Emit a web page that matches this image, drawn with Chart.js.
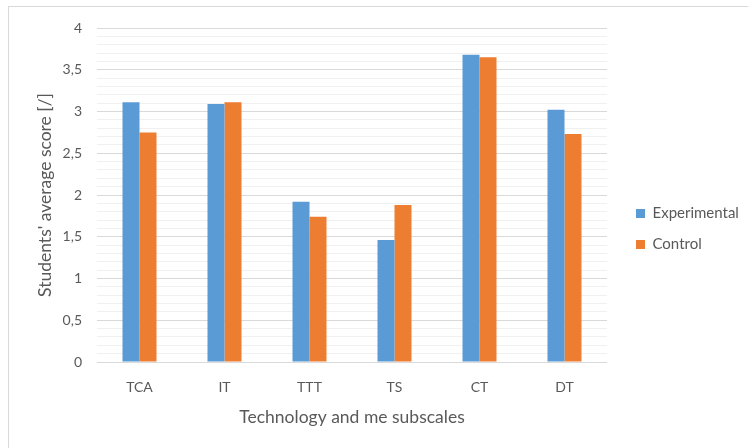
<!DOCTYPE html>
<html>
<head>
<meta charset="utf-8">
<script src="https://cdn.jsdelivr.net/npm/chart.js@4/dist/chart.umd.min.js"></script>
<style>
  html, body { margin: 0; padding: 0; background: #ffffff; }
  #wrap { position: relative; width: 748px; height: 448px; overflow: hidden; }
  #frame { position: absolute; left: 8px; top: 6px; width: 780px; height: 480px; border: 1px solid #d9d9d9; box-sizing: border-box; }
  #chart { position: absolute; left: 0; top: 0; }
</style>
</head>
<body>
<div id="wrap">
  <div id="frame"></div>
  <canvas id="chart" width="748" height="448"></canvas>
</div>
<script>
// Subscales of the "Technology and me" questionnaire
const categories = ['TCA', 'IT', 'TTT', 'TS', 'CT', 'DT'];
// Average scores per group
const experimental = [3.11, 3.09, 1.92, 1.46, 3.68, 3.02];
const control      = [2.75, 3.11, 1.74, 1.88, 3.65, 2.73];
const seriesNames  = ['Experimental', 'Control'];

const TEXT = '#595959';
const FONT = 'Lato, "Open Sans", sans-serif';

function isMajor(v) {
  return Math.round(v * 10) % 5 === 0;
}

// Gives the side legend a fixed width so the plot area keeps its size
const fixedLegendWidth = {
  id: 'fixedLegendWidth',
  beforeUpdate(chart) {
    const lg = chart.legend;
    if (lg && !lg.__fixedWidth) {
      const fit = lg.fit;
      lg.fit = function () {
        fit.call(this);
        this.width = 128;
      };
      lg.__fixedWidth = true;
    }
  }
};

new Chart(document.getElementById('chart'), {
  type: 'bar',
  data: {
    labels: categories,
    datasets: [
      { label: seriesNames[0], data: experimental, backgroundColor: '#5B9BD5', borderWidth: 0 },
      { label: seriesNames[1], data: control, backgroundColor: '#ED7D31', borderWidth: 0 }
    ]
  },
  plugins: [fixedLegendWidth],
  options: {
    responsive: false,
    animation: false,
    devicePixelRatio: 1,
    layout: { padding: { left: 35, top: 28, right: 0, bottom: 18 } },
    datasets: { bar: { categoryPercentage: 0.4, barPercentage: 1.0 } },
    plugins: {
      tooltip: { enabled: false },
      legend: {
        position: 'right',
        align: 'center',
        labels: {
          boxWidth: 9,
          boxHeight: 9,
          padding: 16,
          color: TEXT,
          font: { family: FONT, size: 15 }
        }
      }
    },
    scales: {
      x: {
        grid: { display: false, drawTicks: false },
        border: { display: false },
        ticks: { color: TEXT, padding: 17, font: { family: FONT, size: 14 } },
        title: {
          display: true,
          text: 'Technology and me subscales',
          color: TEXT,
          font: { family: FONT, size: 17.5 },
          padding: { top: 0, bottom: 2 }
        },
        afterFit: (s) => { s.height = 68; }
      },
      y: {
        min: 0,
        max: 4,
        grid: {
          drawTicks: false,
          color: (ctx) => isMajor(ctx.tick.value) ? '#d9d9d9' : '#f0f0f0',
          lineWidth: 1
        },
        border: { display: false },
        ticks: {
          stepSize: 0.1,
          autoSkip: false,
          padding: 15,
          color: TEXT,
          font: { family: FONT, size: 14 },
          callback: (v) => isMajor(v) ? String(Math.round(v * 10) / 10).replace('.', ',') : ''
        },
        title: {
          display: true,
          text: "Students' average score [/]",
          color: TEXT,
          font: { family: FONT, size: 17.5 },
          padding: { top: 0, bottom: 0 }
        },
        afterFit: (s) => { s.width = 62; }
      },
      // narrow empty axis keeping the legend apart from the plot
      gap: {
        position: 'right',
        display: true,
        grid: { display: false, drawTicks: false },
        border: { display: false },
        ticks: { display: false },
        afterFit: (s) => { s.width = 13; }
      }
    }
  }
});
</script>
</body>
</html>
